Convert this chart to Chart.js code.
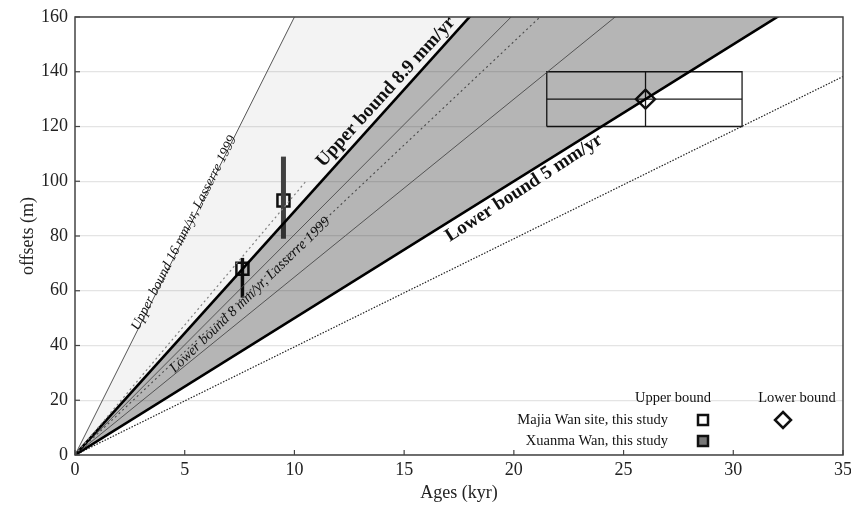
<!DOCTYPE html>
<html>
<head>
<meta charset="utf-8">
<script src="https://cdn.jsdelivr.net/npm/chart.js@4/dist/chart.umd.min.js"></script>
<style>
    html, body { margin: 0; padding: 0; background: #fff; }
    #wrap { width: 851px; height: 508px; }
</style>
</head>
<body>
<div id="wrap"><canvas id="chart" width="851" height="508"></canvas></div>
<script>
// slip-rate lines, mm/yr (= m/kyr)
const rateValues = [16, 9.5, 8.9, 8.05, 7.55, 6.5, 5, 3.95]
const ageSpan    = [0, 35]
const dotted95End = 10.5   // dotted 9.5 line stops under the label

// Majia Wan upper bound points (age kyr, offset m, error min/max)
const majiaAges    = [7.63, 9.5]
const majiaOffsets = [68, 93]
const majiaErrLow  = [57.5, 79]
const majiaErrHigh = [72, 109]

// lower bound point and its box
const lowerAge    = 26
const lowerOffset = 130
const boxAges     = [21.5, 30.4]
const boxOffsets  = [120, 140]

const xTicks = [0, 5, 10, 15, 20, 25, 30, 35]
const yTicks = [0, 20, 40, 60, 80, 100, 120, 140, 160]

const SERIF = '"Liberation Serif", "DejaVu Serif", serif'

function rateLine(rate, xEnd) {
    return ageSpan.map((a, i) => {
        const x = i === 0 ? a : (xEnd ?? a)
        return { x: x, y: rate * x }
    })
}

function lineSet(data, color, width, dash, extra = {}) {
    return Object.assign({
        data: data,
        borderColor: color,
        borderWidth: width,
        borderDash: dash || [],
        pointRadius: 0,
        fill: false,
        tension: 0
    }, extra)
}

const datasets = [
    lineSet(rateLine(rateValues[0]), '#555', 1, null,
        { fill: { target: 2, above: 'rgba(0,0,0,0.048)', below: 'rgba(0,0,0,0.048)' } }),
    lineSet(rateLine(rateValues[1], dotted95End), '#888', 1.2, [2, 3]),
    lineSet(rateLine(rateValues[2]), '#000', 2.6, null,
        { fill: { target: 6, above: 'rgba(0,0,0,0.29)', below: 'rgba(0,0,0,0.29)' } }),
    lineSet(rateLine(rateValues[3]), '#666', 0.9),
    lineSet(rateLine(rateValues[4]), '#666', 1.1, [2, 3]),
    lineSet(rateLine(rateValues[5]), '#666', 0.9),
    lineSet(rateLine(rateValues[6]), '#000', 2.6),
    lineSet(rateLine(rateValues[7]), '#222', 1.2, [1.5, 1.5]),
    // box around lower bound point
    lineSet([
        { x: boxAges[0], y: boxOffsets[0] }, { x: boxAges[1], y: boxOffsets[0] },
        { x: boxAges[1], y: boxOffsets[1] }, { x: boxAges[0], y: boxOffsets[1] },
        { x: boxAges[0], y: boxOffsets[0] }
    ], '#1a1a1a', 1.3),
    lineSet([{ x: lowerAge, y: boxOffsets[0] }, { x: lowerAge, y: boxOffsets[1] }], '#1a1a1a', 1.3),
    lineSet([{ x: boxAges[0], y: lowerOffset }, { x: boxAges[1], y: lowerOffset }], '#1a1a1a', 1.3),
    // error bars
    lineSet([{ x: majiaAges[0], y: majiaErrLow[0] }, { x: majiaAges[0], y: majiaErrHigh[0] }], '#111', 3.5),
    lineSet([{ x: majiaAges[1], y: majiaErrLow[1] }, { x: majiaAges[1], y: majiaErrHigh[1] }], '#444', 5),
    lineSet([{ x: majiaAges[1], y: majiaErrLow[1] + 0.6 }, { x: majiaAges[1], y: majiaErrHigh[1] - 0.6 }], '#b5b5b5', 2.2),
    // markers
    {
        data: majiaAges.map((a, i) => ({ x: a, y: majiaOffsets[i] })),
        showLine: false,
        pointStyle: 'rect',
        pointRadius: 8.5,
        pointBackgroundColor: '#fff',
        pointBorderColor: '#111',
        pointBorderWidth: 2.5
    },
    {
        data: [{ x: lowerAge, y: lowerOffset }],
        showLine: false,
        pointStyle: 'rectRot',
        pointRadius: 9.5,
        pointBackgroundColor: '#fff',
        pointBorderColor: '#111',
        pointBorderWidth: 2.4
    }
]

const rotatedLabels = [
    { text: 'Upper bound 16 mm/yr, Lasserre 1999', x: 4.97, y: 81.1, angle: -63, font: 'italic 14px ' + SERIF },
    { text: 'Upper bound 8.9 mm/yr', x: 14.17, y: 132.6, angle: -47.6, font: 'bold 19px ' + SERIF },
    { text: 'Lower bound 8 mm/yr, Lasserre 1999', x: 7.98, y: 58.4, angle: -44, font: 'italic 14.5px ' + SERIF },
    { text: 'Lower bound 5 mm/yr', x: 20.46, y: 97.5, angle: -33, font: 'bold 19px ' + SERIF }
]

const decorPlugin = {
    id: 'decor',
    afterDraw(chart) {
        const ctx = chart.ctx
        const area = chart.chartArea
        const xs = chart.scales.x
        const ys = chart.scales.y

        ctx.save()
        // inward ticks
        ctx.strokeStyle = '#444'
        ctx.lineWidth = 1.2
        for (const t of xTicks) {
            const px = xs.getPixelForValue(t)
            ctx.beginPath()
            ctx.moveTo(px, area.bottom)
            ctx.lineTo(px, area.bottom - 5)
            ctx.stroke()
        }
        for (const t of yTicks) {
            const py = ys.getPixelForValue(t)
            ctx.beginPath()
            ctx.moveTo(area.left, py)
            ctx.lineTo(area.left + 5, py)
            ctx.stroke()
        }
        // frame
        ctx.strokeStyle = '#444'
        ctx.lineWidth = 1.5
        ctx.strokeRect(area.left, area.top, area.right - area.left, area.bottom - area.top)

        // rotated line labels
        ctx.fillStyle = '#111'
        ctx.textAlign = 'center'
        ctx.textBaseline = 'middle'
        for (const l of rotatedLabels) {
            ctx.save()
            ctx.translate(xs.getPixelForValue(l.x), ys.getPixelForValue(l.y))
            ctx.rotate(l.angle * Math.PI / 180)
            ctx.font = l.font
            ctx.fillText(l.text, 0, 0)
            ctx.restore()
        }

        // legend box, bottom right
        const lx = area.right
        const ly = area.bottom
        ctx.font = '14.5px ' + SERIF
        ctx.fillStyle = '#111'
        ctx.textAlign = 'center'
        ctx.fillText('Upper bound', lx - 170, ly - 57)
        ctx.fillText('Lower bound', lx - 46, ly - 57)
        ctx.textAlign = 'right'
        ctx.fillText('Majia Wan site, this study', lx - 175, ly - 35)
        ctx.fillText('Xuanma Wan, this study', lx - 175, ly - 14)

        ctx.lineWidth = 2.5
        ctx.strokeStyle = '#111'
        ctx.fillStyle = '#fff'
        ctx.fillRect(lx - 145, ly - 40, 10, 10)
        ctx.strokeRect(lx - 145, ly - 40, 10, 10)
        ctx.fillStyle = '#777'
        ctx.fillRect(lx - 145, ly - 19, 10, 10)
        ctx.strokeRect(lx - 145, ly - 19, 10, 10)

        const dx = lx - 60, dy = ly - 35
        ctx.fillStyle = '#fff'
        ctx.beginPath()
        ctx.moveTo(dx, dy - 8)
        ctx.lineTo(dx + 8, dy)
        ctx.lineTo(dx, dy + 8)
        ctx.lineTo(dx - 8, dy)
        ctx.closePath()
        ctx.fill()
        ctx.stroke()
        ctx.restore()
    }
}

new Chart(document.getElementById('chart'), {
    type: 'line',
    data: { datasets: datasets },
    options: {
        responsive: false,
        animation: false,
        layout: { autoPadding: false, padding: { top: 17, right: 8, left: 0, bottom: 0 } },
        plugins: {
            legend: { display: false },
            tooltip: { enabled: false }
        },
        scales: {
            x: {
                type: 'linear',
                min: 0,
                max: 35,
                afterBuildTicks: (scale) => { scale.ticks = xTicks.map(v => ({ value: v })) },
                afterFit: (scale) => {
                    scale.height = 53
                    scale.paddingLeft = 0
                    scale.paddingRight = 0
                },
                grid: { display: false, drawTicks: false },
                border: { display: false },
                ticks: { color: '#222', font: { family: SERIF, size: 18 }, padding: 4, maxRotation: 0 },
                title: { display: true, text: 'Ages (kyr)', color: '#222', font: { family: SERIF, size: 18 }, padding: { top: 0 } }
            },
            y: {
                min: 0,
                max: 160,
                afterBuildTicks: (scale) => { scale.ticks = yTicks.map(v => ({ value: v })) },
                afterFit: (scale) => {
                    scale.width = 75
                    scale.paddingTop = 0
                    scale.paddingBottom = 0
                },
                grid: { color: '#e4e4e4', lineWidth: 1.2, drawTicks: false },
                border: { display: false },
                ticks: { color: '#222', font: { family: SERIF, size: 18 }, padding: 7 },
                title: { display: true, text: 'offsets (m)', color: '#222', font: { family: SERIF, size: 18 }, padding: { top: 17, bottom: 4 } }
            }
        }
    },
    plugins: [decorPlugin]
})
</script>
</body>
</html>
